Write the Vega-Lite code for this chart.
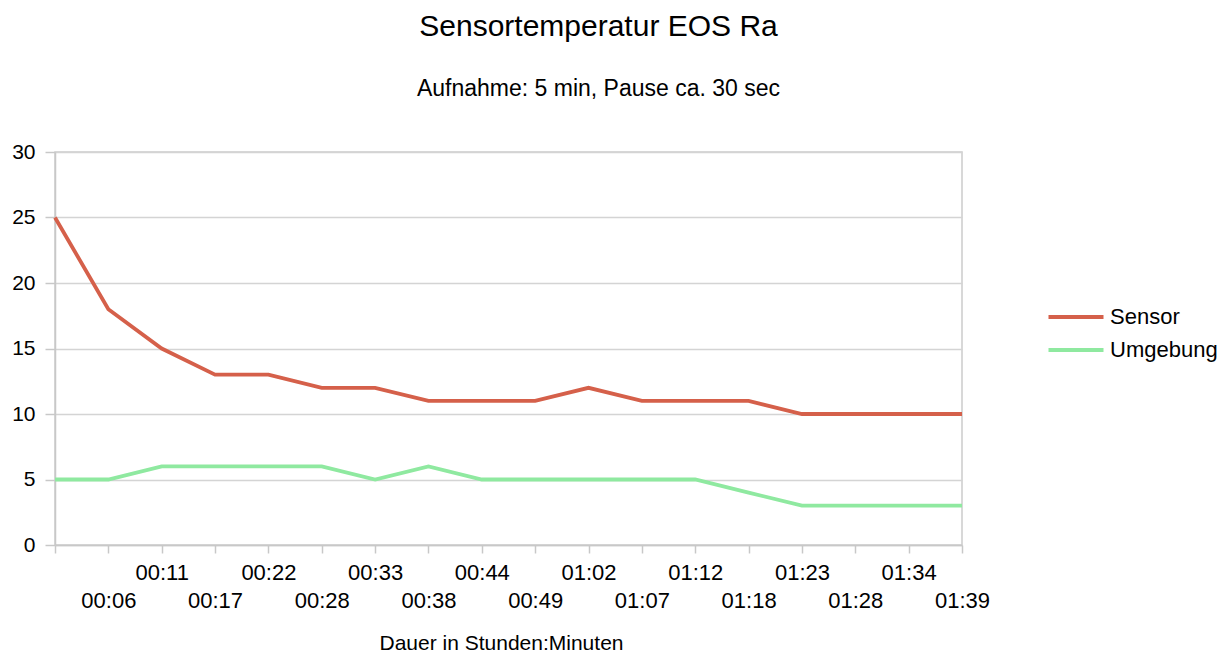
{
  "$schema": "https://vega.github.io/schema/vega-lite/v6.json",
  "autosize": "none",
  "width": 907,
  "height": 393,
  "padding": {"left": 55, "top": 152, "right": 270, "bottom": 109},
  "background": "white",
  "config": {
    "font": "Liberation Sans",
    "view": {"stroke": "#cccccc", "strokeWidth": 1.5}
  },
  "title": {
    "text": "Sensortemperatur EOS Ra",
    "subtitle": "Aufnahme: 5 min, Pause ca. 30 sec",
    "fontSize": 30,
    "fontWeight": "normal",
    "color": "#000000",
    "subtitleFontSize": 23,
    "subtitleColor": "#000000",
    "subtitlePadding": 36,
    "anchor": "middle",
    "dx": 90,
    "offset": 40
  },
  "data": {
    "values": [
      {"zeit": "00:00", "serie": "Sensor", "wert": 25},
      {"zeit": "00:06", "serie": "Sensor", "wert": 18},
      {"zeit": "00:11", "serie": "Sensor", "wert": 15},
      {"zeit": "00:17", "serie": "Sensor", "wert": 13},
      {"zeit": "00:22", "serie": "Sensor", "wert": 13},
      {"zeit": "00:28", "serie": "Sensor", "wert": 12},
      {"zeit": "00:33", "serie": "Sensor", "wert": 12},
      {"zeit": "00:38", "serie": "Sensor", "wert": 11},
      {"zeit": "00:44", "serie": "Sensor", "wert": 11},
      {"zeit": "00:49", "serie": "Sensor", "wert": 11},
      {"zeit": "01:02", "serie": "Sensor", "wert": 12},
      {"zeit": "01:07", "serie": "Sensor", "wert": 11},
      {"zeit": "01:12", "serie": "Sensor", "wert": 11},
      {"zeit": "01:18", "serie": "Sensor", "wert": 11},
      {"zeit": "01:23", "serie": "Sensor", "wert": 10},
      {"zeit": "01:28", "serie": "Sensor", "wert": 10},
      {"zeit": "01:34", "serie": "Sensor", "wert": 10},
      {"zeit": "01:39", "serie": "Sensor", "wert": 10},
      {"zeit": "00:00", "serie": "Umgebung", "wert": 5},
      {"zeit": "00:06", "serie": "Umgebung", "wert": 5},
      {"zeit": "00:11", "serie": "Umgebung", "wert": 6},
      {"zeit": "00:17", "serie": "Umgebung", "wert": 6},
      {"zeit": "00:22", "serie": "Umgebung", "wert": 6},
      {"zeit": "00:28", "serie": "Umgebung", "wert": 6},
      {"zeit": "00:33", "serie": "Umgebung", "wert": 5},
      {"zeit": "00:38", "serie": "Umgebung", "wert": 6},
      {"zeit": "00:44", "serie": "Umgebung", "wert": 5},
      {"zeit": "00:49", "serie": "Umgebung", "wert": 5},
      {"zeit": "01:02", "serie": "Umgebung", "wert": 5},
      {"zeit": "01:07", "serie": "Umgebung", "wert": 5},
      {"zeit": "01:12", "serie": "Umgebung", "wert": 5},
      {"zeit": "01:18", "serie": "Umgebung", "wert": 4},
      {"zeit": "01:23", "serie": "Umgebung", "wert": 3},
      {"zeit": "01:28", "serie": "Umgebung", "wert": 3},
      {"zeit": "01:34", "serie": "Umgebung", "wert": 3},
      {"zeit": "01:39", "serie": "Umgebung", "wert": 3}
    ]
  },
  "mark": {"type": "line", "strokeWidth": 3.8, "strokeJoin": "miter"},
  "encoding": {
    "x": {
      "field": "zeit",
      "type": "ordinal",
      "sort": null,
      "scale": {"type": "point", "padding": 0},
      "axis": {
        "title": "Dauer in Stunden:Minuten",
        "titleFontSize": 21,
        "titleFontWeight": "normal",
        "titleColor": "#000000",
        "titleBaseline": "alphabetic",
        "titleX": 446,
        "titleY": 104,
        "labelAngle": 0,
        "labelFontSize": 22,
        "labelColor": "#000000",
        "labelOverlap": false,
        "labelPadding": 9,
        "labelBaseline": "top",
        "labelLineHeight": 28,
        "labelExpr": "datum.index == 0 ? '' : (round(datum.index * 17) % 2 == 0 ? [datum.label, ''] : ['', datum.label])",
        "tickSize": 8,
        "tickColor": "#c8c8c8",
        "tickWidth": 1.5,
        "domainColor": "#c8c8c8",
        "domainWidth": 1.5,
        "grid": false
      }
    },
    "y": {
      "field": "wert",
      "type": "quantitative",
      "scale": {"domain": [0, 30], "nice": false},
      "axis": {
        "title": null,
        "values": [0, 5, 10, 15, 20, 25, 30],
        "labelFontSize": 21,
        "labelColor": "#000000",
        "labelPadding": 10,
        "tickSize": 10,
        "tickColor": "#c8c8c8",
        "tickWidth": 1.5,
        "domainColor": "#c8c8c8",
        "domainWidth": 1.5,
        "gridColor": "#d4d4d4",
        "gridWidth": 1.5
      }
    },
    "color": {
      "field": "serie",
      "type": "nominal",
      "scale": {"domain": ["Sensor", "Umgebung"], "range": ["#d5604a", "#8fe9a0"]},
      "legend": {
        "title": null,
        "orient": "none",
        "legendX": 1008,
        "legendY": 152,
        "symbolType": "M-2.5,0H2.5",
        "symbolSize": 484,
        "symbolFillColor": "transparent",
        "symbolStrokeWidth": 3.8,
        "labelFontSize": 22,
        "labelColor": "#000000",
        "rowPadding": 9,
        "labelOffset": 21
      }
    }
  }
}
